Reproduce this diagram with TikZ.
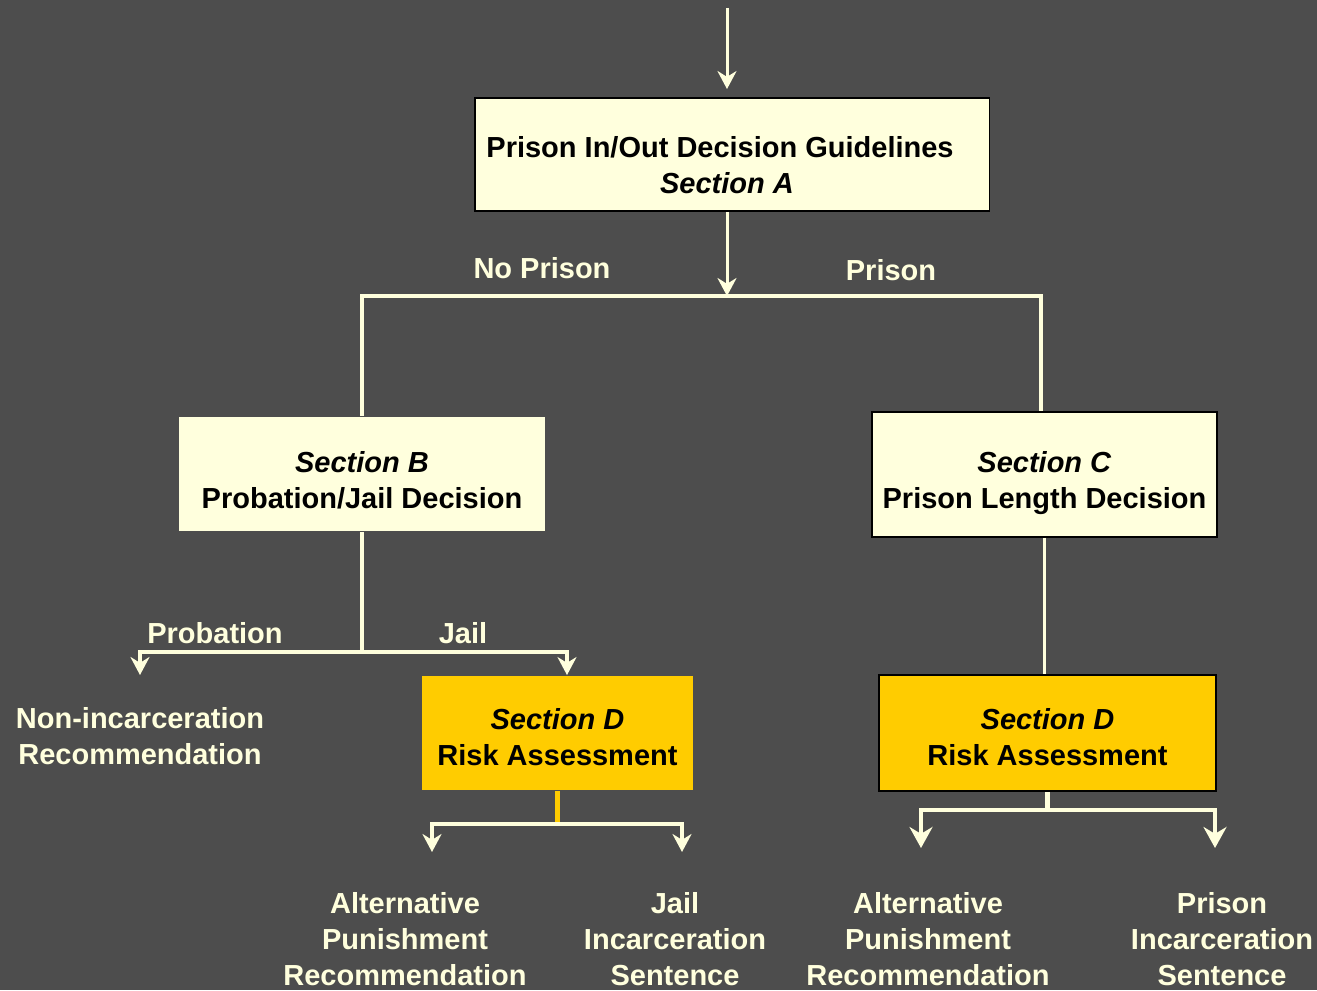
\documentclass[tikz,border=0pt]{standalone}
\usepackage{fontspec}
\setmainfont{Liberation Sans}
\usetikzlibrary{arrows.meta, positioning}
\definecolor{slate}{HTML}{4D4D4D}
\definecolor{cream}{HTML}{FFFFDD}
\definecolor{gold}{HTML}{FFCC00}
% strut to push box text down a little
\newcommand{\lowtext}[1]{\rule{0pt}{#1}}
\tikzset{
  section/.style={
    rectangle, draw=black, line width=1.1pt, fill=cream, text=black,
    align=center, inner sep=0pt,
    font=\bfseries\fontsize{16.5}{20.5}\selectfont
  },
  risk/.style={section, fill=gold},
  choice/.style={
    text=cream, align=center, inner sep=0pt,
    font=\bfseries\fontsize{16.5}{20.5}\selectfont
  },
  wire/.style={draw=cream, line width=2.2pt},
  flow/.style={wire, -{Stealth[length=0.36cm, width=0.38cm]}},
  heavy/.style={draw=cream, line width=2.8pt, -{Stealth[length=0.42cm, width=0.46cm]}}
}

\begin{document}
\begin{tikzpicture}[x=0.02cm, y=-0.02cm]
\fill[slate] (0,0) rectangle (1317,990);
\useasboundingbox (0,0) rectangle (1317,990);

% boxes
\node[section, minimum width=10.3cm, minimum height=2.26cm] (secA) at (732,154.5)
  {\lowtext{24.5pt}Prison In/Out Decision Guidelines\hspace*{0.48cm}\\ \textit{Section A}\hspace*{0.2cm}};
\node[section, draw=none, minimum width=7.32cm, minimum height=2.28cm] (secB) at (362,474)
  {\lowtext{18.8pt}\textit{Section B}\\ Probation/Jail Decision};
\node[section, minimum width=6.9cm, minimum height=2.5cm] (secC) at (1044.5,474.5)
  {\lowtext{22.2pt}\textit{Section C}\\ Prison Length Decision};
\node[risk, draw=none, minimum width=5.42cm, minimum height=2.28cm] (riskB) at (557.5,733)
  {\lowtext{16.6pt}\textit{Section D}\\ Risk Assessment};
\node[risk, minimum width=6.74cm, minimum height=2.32cm] (riskC) at (1047.5,733)
  {\lowtext{16.6pt}\textit{Section D}\\ Risk Assessment};

% branch labels
\node[choice] (noprison) at (542,268) {No Prison};
\node[choice] (prison) at (891,270) {Prison};
\node[choice] (probation) at (215,633) {Probation};
\node[choice] (jail) at (463,633) {Jail};

% outcomes
\node[choice] (nonincar) at (140,736) {Non-incarceration\\ Recommendation};
\node[choice] (altB) at (405,939) {Alternative\\ Punishment\\ Recommendation};
\node[choice] (jailsent) at (675,939) {Jail\\ Incarceration\\ Sentence};
\node[choice] (altC) at (928,939) {Alternative\\ Punishment\\ Recommendation};
\node[choice] (prisonsent) at (1222,939) {Prison\\ Incarceration\\ Sentence};

% junctions and free ends
\coordinate (start) at (727,8);
\coordinate (split) at (727,296);
\coordinate (forkB) at (360,652);
\coordinate (toNon) at (140,675);
\coordinate (forkD) at (555,824);
\coordinate (toAltB) at (432,852);
\coordinate (toJail) at (682,852);
\coordinate (forkC) at (1043,810);
\coordinate (toAltC) at (921,848);
\coordinate (toPrison) at (1215,848);

% connectors
\draw[flow, line width=1.7pt, shorten >=0.16cm] (start) -- (start |- secA.north);
\draw[flow, line width=1.7pt] (split |- secA.south) -- (split);
\draw[wire] (secB.north) |- (split) -| ([xshift=-0.07cm]secC.north);
\draw[wire] (secB.south) -- (secB.south |- forkB);
\draw[flow] (forkB) -| (toNon);
\draw[flow] (forkB) -| ([xshift=0.19cm]riskB.north);
\draw[draw=gold, line width=2.8pt] (riskB.south) -- (riskB.south |- forkD);
\draw[flow] (riskB.south |- forkD) -| (toAltB);
\draw[flow] (riskB.south |- forkD) -| (toJail);
\draw[wire] (secC.south) -- (secC.south |- riskC.north);
\draw[draw=cream, line width=2.8pt] (riskC.south) -- (riskC.south |- forkC);
\draw[heavy] (riskC.south |- forkC) -| (toAltC);
\draw[heavy] (riskC.south |- forkC) -| (toPrison);
\end{tikzpicture}
\end{document}
